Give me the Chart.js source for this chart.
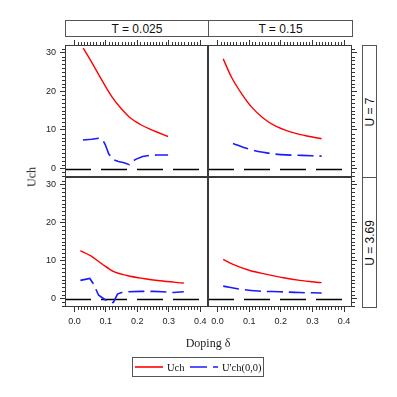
<!DOCTYPE html>
<html>
<head>
<meta charset="utf-8">
<script src="https://cdn.jsdelivr.net/npm/chart.js@4/dist/chart.umd.min.js"></script>
<style>
html,body{margin:0;padding:0;background:#fff;}
#wrap{position:relative;width:397px;height:397px;overflow:hidden;background:#fff;}
#wrap canvas{position:absolute;left:0;top:0;}
.strip{position:absolute;box-sizing:border-box;border:1px solid #555;background:#fff;
  font-family:"Liberation Sans",Arial,sans-serif;font-size:12px;color:#111;
  display:flex;align-items:center;justify-content:center;white-space:nowrap;}
.strip span{display:block;}
.vstrip span{transform:rotate(-90deg);}
.title{position:absolute;font-family:"Liberation Serif","Times New Roman",serif;font-size:12px;color:#222;white-space:nowrap;}
#legend{position:absolute;left:132px;top:357px;width:132px;height:20px;box-sizing:border-box;border:1px solid #555;background:#fff;}
#legend .item{position:absolute;top:0;height:18px;display:flex;align-items:center;font-family:"Liberation Serif","Times New Roman",serif;font-size:10.5px;color:#111;white-space:nowrap;}
#legend svg{display:block;margin-right:4px;}
</style>
</head>
<body>
<div id="wrap"></div>
<script>
// ---------- data ----------
const stripT = ["T = 0.025", "T = 0.15"];
const stripU = ["U = 7", "U = 3.69"];
const xTicks = [0, 0.1, 0.2, 0.3, 0.4];
const yTicks = [0, 10, 20, 30];
const seriesNames = ["Uch", "U'ch(0,0)"];
const xTitle = "Doping \u03b4";
const yTitle = "Uch";

// U = 7, T = 0.025
const dopUchU7T1 = [0.028, 0.06, 0.09, 0.12, 0.15, 0.175, 0.21, 0.24, 0.27, 0.298];
const uchU7T1    = [31.2, 26.8, 22.5, 18.5, 15.4, 13.3, 11.4, 10.2, 9.2, 8.3];
const dopUpU7T1  = [0.027, 0.055, 0.08, 0.09, 0.098, 0.109, 0.124, 0.14, 0.158, 0.175, 0.193, 0.217, 0.24, 0.262, 0.298];
const upU7T1     = [7.4, 7.6, 7.85, 7.4, 6.2, 3.8, 2.25, 1.8, 1.5, 1.0, 2.3, 3.1, 3.4, 3.5, 3.5];

// U = 7, T = 0.15
const dopUchU7T2 = [0.018, 0.044, 0.076, 0.108, 0.144, 0.181, 0.223, 0.276, 0.329];
const uchU7T2    = [28.4, 23.7, 19.4, 15.9, 13.1, 11.1, 9.7, 8.55, 7.7];
const dopUpU7T2  = [0.049, 0.097, 0.144, 0.2, 0.266, 0.329];
const upU7T2     = [6.5, 5.1, 4.2, 3.6, 3.4, 3.2];

// U = 3.69, T = 0.025
const dopUchU3T1 = [0.019, 0.051, 0.088, 0.125, 0.167, 0.219, 0.272, 0.348];
const uchU3T1    = [12.6, 11.3, 9.1, 7.1, 6.1, 5.3, 4.7, 4.1];
const dopUpU3T1  = [0.019, 0.049, 0.061, 0.077, 0.098, 0.113, 0.124, 0.137, 0.15, 0.17, 0.21, 0.25, 0.28, 0.315, 0.348];
const upU3T1     = [4.8, 5.3, 3.8, 0.9, -0.3, -1.0, -1.0, 1.2, 1.6, 1.8, 1.9, 1.9, 1.8, 1.6, 1.8];

// U = 3.69, T = 0.15
const dopUchU3T2 = [0.018, 0.049, 0.102, 0.155, 0.208, 0.26, 0.329];
const uchU3T2    = [10.3, 9.0, 7.4, 6.4, 5.5, 4.8, 4.2];
const dopUpU3T2  = [0.018, 0.071, 0.128, 0.197, 0.26, 0.329];
const upU3T2     = [3.3, 2.5, 2.0, 1.8, 1.6, 1.5];

// ---------- layout / style ----------
const W = 397, H = 397;
const colL = [65, 208], colR = [208, 352];
const rowT = [45, 177], rowB = [177, 307];
const X_MIN = -0.03, X_MAX = 0.425, Y_MIN = -2.2, Y_MAX = 32;
const RED = "#ff0000", BLUE = "#1a1aff", AXIS = "#333";
const TICK_FONT = {family: "'Liberation Sans', Arial, sans-serif", size: 9};

const panels = [
  {col:0,row:0,uch:[dopUchU7T1,uchU7T1],up:[dopUpU7T1,upU7T1],upTension:0},
  {col:1,row:0,uch:[dopUchU7T2,uchU7T2],up:[dopUpU7T2,upU7T2],upTension:0.4},
  {col:0,row:1,uch:[dopUchU3T1,uchU3T1],up:[dopUpU3T1,upU3T1],upTension:0},
  {col:1,row:1,uch:[dopUchU3T2,uchU3T2],up:[dopUpU3T2,upU3T2],upTension:0.4}
];

const wrap = document.getElementById('wrap');

const panelPlugin = {
  id: 'panelDeco',
  beforeDatasetsDraw(chart) {
    const {ctx, chartArea:a, scales} = chart;
    const y0 = scales.y.getPixelForValue(0);
    ctx.save();
    ctx.strokeStyle = '#000';
    ctx.lineWidth = 1.4;
    ctx.setLineDash([26, 10]);
    ctx.beginPath();
    ctx.moveTo(a.left, Math.round(y0) + 0.5);
    ctx.lineTo(a.right, Math.round(y0) + 0.5);
    ctx.stroke();
    ctx.restore();
  },
  afterDraw(chart) {
    const {ctx, chartArea:a, scales} = chart;
    const o = chart.options.plugins.panelDeco;
    ctx.save();
    ctx.strokeStyle = AXIS;
    ctx.lineWidth = 1;
    // minor ticks x
    ctx.beginPath();
    for (let i = 1; i < 40; i++) {
      if (i % 10 === 0) continue;
      const px = Math.round(scales.x.getPixelForValue(i / 100)) + 0.5;
      if (o.xPos === 'top') { ctx.moveTo(px, a.top); ctx.lineTo(px, a.top - 3); }
      else { ctx.moveTo(px, a.bottom); ctx.lineTo(px, a.bottom + 3); }
    }
    // minor ticks y
    for (let v = -2; v <= 31; v++) {
      if (v % 10 === 0) continue;
      const py = Math.round(scales.y.getPixelForValue(v)) + 0.5;
      if (o.yPos === 'left') { ctx.moveTo(a.left, py); ctx.lineTo(a.left - 3, py); }
      else { ctx.moveTo(a.right, py); ctx.lineTo(a.right + 3, py); }
    }
    ctx.stroke();
    // panel border
    ctx.strokeStyle = '#3a3a3a';
    ctx.strokeRect(a.left + 0.5, a.top + 0.5, a.right - a.left - 1, a.bottom - a.top - 1);
    ctx.restore();
  }
};

function toPts(xs, ys) { return xs.map((x, i) => ({x, y: ys[i]})); }

panels.forEach(p => {
  const [l, r] = p.col === 0 ? colL : colR;
  const [t, b] = p.row === 0 ? rowT : rowB;
  const xPos = p.row === 0 ? 'top' : 'bottom';
  const yPos = p.col === 0 ? 'left' : 'right';
  const yW = yPos === 'left' ? 25 : 5;
  const xH = xPos === 'top' ? 5 : 22;
  const pad = {
    left: yPos === 'left' ? l - yW : l,
    right: yPos === 'right' ? W - r - yW : W - r,
    top: xPos === 'top' ? t - xH : t,
    bottom: xPos === 'bottom' ? H - b - xH : H - b
  };
  const cv = document.createElement('canvas');
  cv.width = W; cv.height = H;
  cv.style.width = W + 'px'; cv.style.height = H + 'px';
  wrap.appendChild(cv);
  new Chart(cv.getContext('2d'), {
    type: 'line',
    data: {
      datasets: [
        {label: seriesNames[0], data: toPts(p.uch[0], p.uch[1]), borderColor: RED, borderWidth: 1.4,
         pointRadius: 0, cubicInterpolationMode: 'monotone', fill: false},
        {label: seriesNames[1], data: toPts(p.up[0], p.up[1]), borderColor: BLUE, borderWidth: 1.6,
         borderDash: [16, 6], pointRadius: 0, tension: p.upTension, fill: false}
      ]
    },
    options: {
      responsive: false,
      animation: false,
      devicePixelRatio: 1,
      events: [],
      layout: {padding: pad},
      plugins: {legend: {display: false}, tooltip: {enabled: false}, panelDeco: {xPos, yPos}},
      scales: {
        x: {
          type: 'linear', position: xPos, min: X_MIN, max: X_MAX,
          afterBuildTicks: s => { s.ticks = xTicks.map(v => ({value: v})); },
          afterFit: s => { s.height = xH; },
          grid: {display: true, drawOnChartArea: false, drawTicks: true, tickLength: 5, color: AXIS},
          border: {display: false},
          ticks: {display: xPos === 'bottom', font: TICK_FONT, color: '#222', padding: 4, maxRotation: 0,
                  callback: v => Number(v).toFixed(1)}
        },
        y: {
          type: 'linear', position: yPos, min: Y_MIN, max: Y_MAX,
          afterBuildTicks: s => { s.ticks = yTicks.map(v => ({value: v})); },
          afterFit: s => { s.width = yW; },
          grid: {display: true, drawOnChartArea: false, drawTicks: true, tickLength: 5, color: AXIS},
          border: {display: false},
          ticks: {display: yPos === 'left', font: TICK_FONT, color: '#222', padding: 4,
                  callback: v => String(v)}
        }
      }
    },
    plugins: [panelPlugin]
  });
});

// strips
function addStrip(text, l, t, w, h, vertical) {
  const d = document.createElement('div');
  d.className = 'strip' + (vertical ? ' vstrip' : '');
  d.style.left = l + 'px'; d.style.top = t + 'px';
  d.style.width = w + 'px'; d.style.height = h + 'px';
  const s = document.createElement('span'); s.textContent = text; d.appendChild(s);
  wrap.appendChild(d);
}
addStrip(stripT[0], colL[0], 20, colL[1] - colL[0] + 1, 17, false);
addStrip(stripT[1], colR[0], 20, colR[1] - colR[0] + 1, 17, false);
addStrip(stripU[0], 362, rowT[0], 15, rowT[1] - rowT[0] + 1, true);
addStrip(stripU[1], 362, rowB[0], 15, rowB[1] - rowB[0] + 1, true);

// axis titles
const yt = document.createElement('div');
yt.className = 'title'; yt.textContent = yTitle;
yt.style.left = '32px'; yt.style.top = '177px';
yt.style.transform = 'translate(-50%,-50%) rotate(-90deg)';
wrap.appendChild(yt);
const xt = document.createElement('div');
xt.className = 'title'; xt.textContent = xTitle;
xt.style.left = '208px'; xt.style.top = '343px';
xt.style.transform = 'translate(-50%,-50%)';
wrap.appendChild(xt);

// legend
const lg = document.createElement('div'); lg.id = 'legend'; wrap.appendChild(lg);
const legItems = [
  {name: seriesNames[0], color: RED, dash: null, left: 2},
  {name: seriesNames[1], color: BLUE, dash: '17 6', left: 57}
];
legItems.forEach(it => {
  const d = document.createElement('div'); d.className = 'item'; d.style.left = it.left + 'px';
  d.innerHTML = '<svg width="28" height="4"><line x1="0" y1="2" x2="28" y2="2" stroke="' + it.color +
    '" stroke-width="1.6"' + (it.dash ? ' stroke-dasharray="' + it.dash + '"' : '') + '/></svg>';
  const sp = document.createElement('span'); sp.textContent = it.name; d.appendChild(sp);
  lg.appendChild(d);
});
</script>
</body>
</html>
